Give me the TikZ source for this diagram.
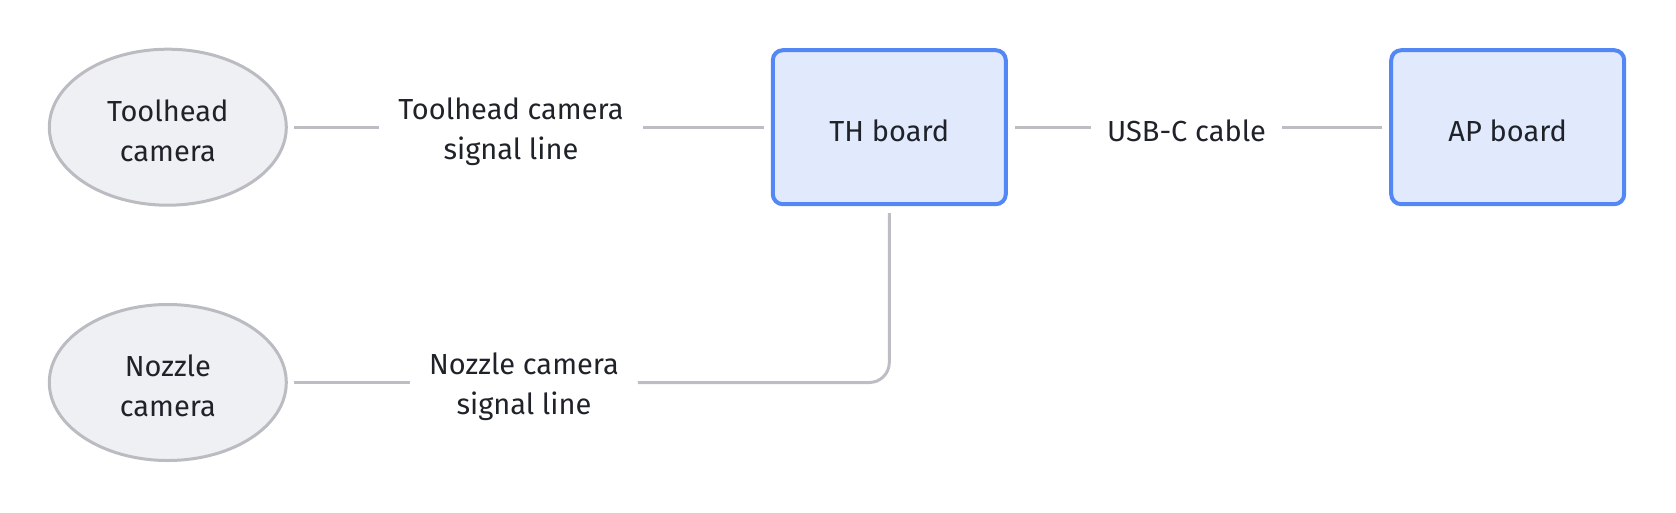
\documentclass[tikz,border=0pt]{standalone}
\usepackage{fontspec}
\setmainfont{Fira Sans}
\usetikzlibrary{shapes.geometric}
\definecolor{txt}{HTML}{1F2329}
\definecolor{ellfill}{HTML}{EFF0F3}
\definecolor{elldraw}{HTML}{BBBCC1}
\definecolor{boxfill}{HTML}{E1E9FD}
\definecolor{boxdraw}{HTML}{5287F5}
\definecolor{conn}{HTML}{BDBEC4}
\tikzset{
  base/.style={text=txt, font=\fontsize{29}{40}\selectfont, align=center},
  cam/.style={ellipse, fill=ellfill, draw=elldraw, line width=3pt, minimum width=237pt, minimum height=156pt, inner sep=0pt, outer sep=8pt,
    label={[base, yshift=-3.5pt]center:#1}},
  board/.style={base, rectangle, rounded corners=10pt, fill=boxfill, draw=boxdraw, line width=4pt, minimum width=233pt, minimum height=154pt, inner sep=0pt, outer sep=9pt, text height=28pt, text depth=0pt},
  lbl/.style={base, inner sep=0pt, outer sep=19pt},
  wire/.style={draw=conn, line width=3pt}
}
\begin{document}
\begin{tikzpicture}[x=1pt,y=-1pt]
\useasboundingbox (0,0) rectangle (1676,512);
\node[cam={Toolhead\\camera}] (tc) at (167.8,127.2) {};
\node[cam={Nozzle\\camera}] (nc) at (167.8,382.5) {};
\node[board] (th) at (889.3,127.2) {TH board};
\node[board] (ap) at (1507.7,127.2) {AP board};
\node[lbl] (l1) at (511,131.5) {Toolhead camera\\signal line};
\node[lbl, outer sep=16pt] (l2) at (1186.5,130.5) {USB-C cable};
\node[lbl] (l3) at (524,387) {Nozzle camera\\signal line};
\draw[wire] (tc.east) -- (tc.east -| l1.west);
\draw[wire] (tc.east -| l1.east) -- (th.west);
\draw[wire] (th.east) -- (th.east -| l2.west);
\draw[wire] (th.east -| l2.east) -- (ap.west);
\draw[wire] (nc.east) -- (nc.east -| l3.west);
\draw[wire, rounded corners=20pt] (nc.east -| l3.east) -| (th.south);
\end{tikzpicture}
\end{document}
